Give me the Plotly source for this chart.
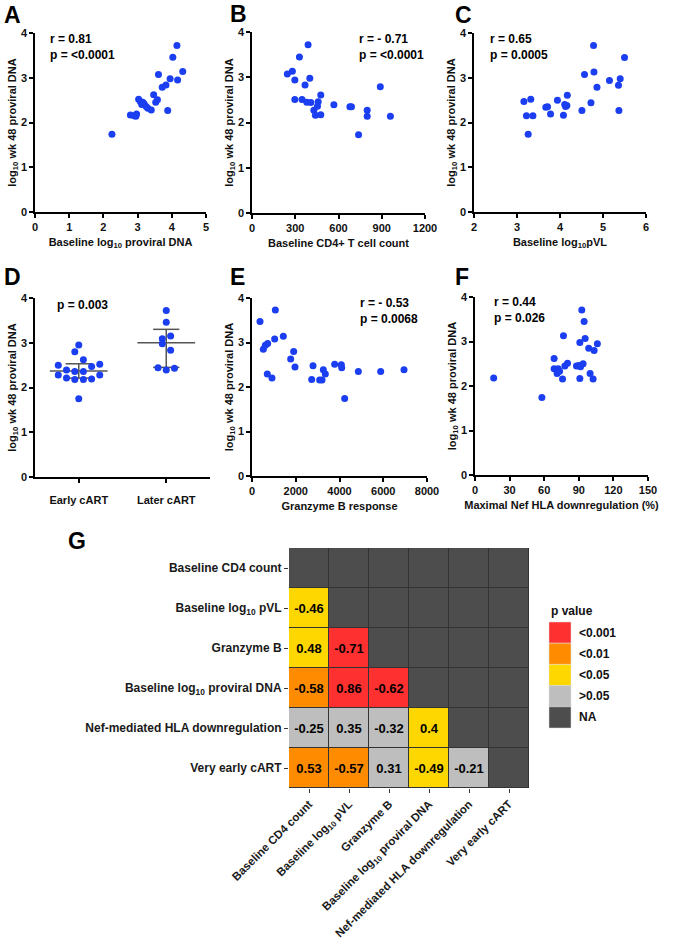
import plotly.graph_objects as go

W, H = 680, 944
FONT = "Liberation Sans, Arial, sans-serif"
BLUE = "#1a3ef0"

# A: baseline log10 proviral DNA vs wk 48
a_x = [2.25, 2.79, 2.90, 2.97, 2.95, 3.03, 3.08, 3.12, 3.19, 3.25, 3.30, 3.40, 3.47,
       3.53, 3.58, 3.61, 3.72, 3.83, 3.88, 3.95, 4.03, 4.15, 4.17, 4.32, 3.15]
a_y = [1.74, 2.17, 2.15, 2.19, 2.14, 2.52, 2.47, 2.40, 2.42, 2.36, 2.32, 2.28, 2.62,
       2.45, 2.51, 3.07, 2.79, 2.84, 2.27, 2.98, 3.46, 3.72, 2.95, 3.14, 2.45]

# B: baseline CD4+ T cell count
b_x = [245, 280, 297, 297, 329, 347, 368, 380, 389, 401, 408, 429, 440, 454, 459,
       477, 477, 568, 679, 690, 739, 799, 799, 890, 960]
b_y = [3.07, 3.13, 2.94, 2.51, 3.45, 2.51, 2.83, 2.45, 3.72, 2.98, 2.44, 2.27, 2.16,
       2.36, 2.46, 2.61, 2.17, 2.39, 2.35, 2.35, 1.73, 2.27, 2.14, 2.79, 2.14]

# C: baseline log10 pVL
c_x = [3.16, 3.22, 3.26, 3.32, 3.37, 3.67, 3.71, 3.78, 3.94, 4.08, 4.11, 4.13, 4.17,
       4.16, 4.51, 4.57, 4.72, 4.78, 4.79, 4.86, 5.15, 5.36, 5.37, 5.40, 5.50]
c_y = [2.47, 2.15, 1.74, 2.52, 2.15, 2.34, 2.35, 2.19, 2.50, 2.16, 2.40, 2.36, 2.61,
       2.38, 2.27, 3.07, 2.44, 3.72, 3.13, 2.79, 2.94, 2.83, 2.27, 2.98, 3.45]

# D: early vs later cART
d_groups = ["Early cART", "Later cART"]
d_early_y = [2.95, 2.80, 2.62, 2.50, 2.39, 2.36, 2.36, 2.47, 2.52, 2.28, 2.21, 2.18,
             2.18, 2.19, 2.28, 1.75]
d_early_jit = [0.0, -0.045, 0.053, -0.234, -0.14, -0.045, 0.053, 0.147, 0.24, -0.234,
               -0.14, -0.045, 0.053, 0.147, 0.24, 0.0]
d_later_y = [3.72, 3.46, 3.09, 3.15, 2.98, 2.83, 2.44, 2.39, 2.43]
d_later_jit = [0.0, 0.0, -0.045, 0.05, -0.045, 0.05, -0.094, 0.0, 0.094]
d_median = [2.37, 3.00]
d_q1 = [2.21, 2.45]
d_q3 = [2.53, 3.30]

# E: granzyme B response
e_x = [366, 518, 610, 716, 700, 914, 1036, 1067, 1432, 1768, 1905, 1966, 2728, 2789,
       3093, 3200, 3261, 3352, 3779, 4084, 4100, 4236, 4861, 5882, 6949]
e_y = [3.47, 2.85, 2.94, 2.98, 2.29, 2.20, 3.08, 3.73, 3.14, 2.63, 2.80, 2.45, 2.17,
       2.48, 2.16, 2.16, 2.39, 2.29, 2.51, 2.50, 2.43, 1.74, 2.35, 2.35, 2.39]

# F: maximal Nef HLA downregulation
f_x = [16.2, 58.0, 68.6, 68.6, 71.2, 72.1, 73.3, 75.9, 76.7, 77.9, 80.2, 88.0, 90.9,
       90.9, 92.6, 93.7, 94.6, 95.5, 98.6, 99.8, 102.4, 103.3, 106.1, 91.5, 90.0]
f_y = [2.18, 1.74, 2.62, 2.39, 2.28, 2.39, 2.33, 2.16, 3.13, 2.45, 2.51, 2.45, 2.98,
       2.17, 3.71, 2.50, 3.45, 3.07, 2.85, 2.28, 2.16, 2.80, 2.95, 2.43, 2.46]

# G: correlation matrix
hm_labels = ["Baseline CD4 count", "Baseline log<sub>10</sub> pVL", "Granzyme B",
             "Baseline log<sub>10</sub> proviral DNA", "Nef-mediated HLA downregulation",
             "Very early cART"]
hm_r = [
    [None, None, None, None, None, None],
    ["-0.46", None, None, None, None, None],
    ["0.48", "-0.71", None, None, None, None],
    ["-0.58", "0.86", "-0.62", None, None, None],
    ["-0.25", "0.35", "-0.32", "0.4", None, None],
    ["0.53", "-0.57", "0.31", "-0.49", "-0.21", None],
]
# p category: 0 <0.001, 1 <0.01, 2 <0.05, 3 >0.05, 4 NA
hm_p = [
    [4, 4, 4, 4, 4, 4],
    [2, 4, 4, 4, 4, 4],
    [2, 0, 4, 4, 4, 4],
    [1, 0, 0, 4, 4, 4],
    [3, 3, 3, 2, 4, 4],
    [1, 1, 3, 2, 3, 4],
]
p_labels = ["&lt;0.001", "&lt;0.01", "&lt;0.05", "&gt;0.05", "NA"]
p_colors = ["#ff3030", "#ff8c00", "#ffd700", "#bebebe", "#4d4d4d"]


def fx(px):
    return px / W


def fy(py):
    return 1 - py / H


def xax(x0, x1, rng, dtick, title, anchor, standoff=6):
    return dict(domain=[fx(x0), fx(x1)], range=rng, dtick=dtick, tick0=rng[0],
                anchor=anchor, automargin=False,
                showline=True, linecolor="black", linewidth=1.5,
                ticks="outside", ticklen=4, tickwidth=1.5, tickcolor="black",
                showgrid=False, zeroline=False,
                tickfont=dict(size=11, weight="bold"),
                title=dict(text=title, font=dict(size=11, weight="bold"), standoff=standoff))


def yax(y0, y1, anchor):
    return dict(domain=[fy(y1), fy(y0)], range=[0, 4], dtick=1, anchor=anchor,
                automargin=False,
                showline=True, linecolor="black", linewidth=1.5,
                ticks="outside", ticklen=4, tickwidth=1.5, tickcolor="black",
                showgrid=False, zeroline=False,
                tickfont=dict(size=11, weight="bold"),
                title=dict(text="log<sub>10</sub> wk 48 proviral DNA",
                           font=dict(size=11, weight="bold"), standoff=2))


def dots(x, y, n):
    return go.Scatter(x=x, y=y, mode="markers", xaxis="x" + n, yaxis="y" + n,
                      marker=dict(color=BLUE, size=7), hoverinfo="skip",
                      showlegend=False)


fig = go.Figure()
fig.add_trace(dots(a_x, a_y, ""))
fig.add_trace(dots(b_x, b_y, "2"))
fig.add_trace(dots(c_x, c_y, "3"))

# D: bars (median + IQR) then points
for i, (med, lo, hi) in enumerate(zip(d_median, d_q1, d_q3)):
    c = i + 1
    lx = [c - 0.33, c + 0.33, None, c - 0.15, c + 0.15, None, c - 0.15, c + 0.15, None, c, c]
    ly = [med, med, None, hi, hi, None, lo, lo, None, lo, hi]
    fig.add_trace(go.Scatter(x=lx, y=ly, mode="lines", xaxis="x4", yaxis="y4",
                             line=dict(color="#555555", width=1.5), hoverinfo="skip",
                             showlegend=False))
fig.add_trace(dots([1 + j for j in d_early_jit] + [2 + j for j in d_later_jit],
                   d_early_y + d_later_y, "4"))

fig.add_trace(dots(e_x, e_y, "5"))
fig.add_trace(dots(f_x, f_y, "6"))

# G heatmap
n = len(hm_labels)
fig.add_shape(type="rect", xref="x7", yref="y7", x0=-0.5, x1=n - 0.5, y0=-0.5, y1=n - 0.5,
              fillcolor="#333333", line=dict(width=0), layer="below")
cs = []
for k, col in enumerate(p_colors):
    cs += [[k / 5, col], [(k + 1) / 5, col]]
fig.add_trace(go.Heatmap(
    z=hm_p, x=list(range(n)), y=list(range(n)),
    text=[[v if v is not None else "" for v in row] for row in hm_r],
    texttemplate="%{text}", textfont=dict(size=13, color="black", weight="bold"),
    colorscale=cs, zmin=-0.5, zmax=4.5, showscale=False, xgap=1, ygap=1,
    xaxis="x7", yaxis="y7", hoverinfo="skip"))

fig.update_layout(
    width=W, height=H, margin=dict(l=0, r=0, t=0, b=0, autoexpand=False),
    paper_bgcolor="white", plot_bgcolor="white",
    font=dict(family=FONT, color="#111111", weight="bold"),
    xaxis=xax(35, 206, [0, 5], 1, "Baseline log<sub>10</sub> proviral DNA", "y"),
    yaxis=yax(33, 212, "x"),
    xaxis2=xax(252, 425, [0, 1200], 300, "Baseline CD4+ T cell count", "y2"),
    yaxis2=yax(32, 213, "x2"),
    xaxis3=xax(474, 646, [2, 6], 1, "Baseline log<sub>10</sub>pVL", "y3"),
    yaxis3=yax(33, 212, "x3"),
    xaxis4=dict(xax(35, 210, [0.5, 2.5], 1, "", "y4"), tickvals=[1, 2], ticktext=d_groups,
                ticklabelstandoff=8),
    yaxis4=yax(298, 477, "x4"),
    xaxis5=xax(252, 427, [0, 8000], 2000, "Granzyme B response", "y5"),
    yaxis5=yax(298, 476, "x5"),
    xaxis6=xax(475, 648, [0, 150], 30, "Maximal Nef HLA downregulation (%)", "y6"),
    yaxis6=yax(297, 475, "x6"),
    xaxis7=dict(domain=[fx(289), fx(529)], anchor="y7", range=[-0.5, n - 0.5],
                automargin=False,
                tickvals=list(range(n)), ticktext=hm_labels, tickangle=-45,
                ticks="outside", ticklen=4, tickcolor="#333333", showline=False,
                showgrid=False, zeroline=False,
                tickfont=dict(size=11.5, weight="bold", color="#1a1a1a")),
    yaxis7=dict(domain=[fy(788), fy(548)], anchor="x7", range=[n - 0.5, -0.5],
                automargin=False,
                tickvals=list(range(n)), ticktext=hm_labels,
                ticks="outside", ticklen=4, tickcolor="#333333", showline=False,
                showgrid=False, zeroline=False,
                tickfont=dict(size=12, weight="bold", color="#1a1a1a")),
)

ann = []
for letter, px, py in [("A", 12, 15), ("B", 239, 14), ("C", 463, 15), ("D", 12, 277),
                       ("E", 237, 277), ("F", 462, 277), ("G", 77, 541)]:
    ann.append(dict(text=letter, x=fx(px), y=fy(py), xref="paper", yref="paper",
                    xanchor="center", yanchor="middle", showarrow=False,
                    font=dict(size=23, color="black", weight="bold")))
for txt, px, py in [("r = 0.81<br>p = &lt;0.0001", 48, 30), ("r = - 0.71<br>p = &lt;0.0001", 357, 30),
                    ("r = 0.65<br>p = 0.0005", 488, 30), ("p = 0.003", 55, 296),
                    ("r = - 0.53<br>p = 0.0068", 358, 294), ("r = 0.44<br>p = 0.026", 492, 293)]:
    ann.append(dict(text=txt, x=fx(px), y=fy(py), xref="paper", yref="paper",
                    xanchor="left", yanchor="top", align="left", showarrow=False,
                    font=dict(size=12, color="black", weight="bold")))

# p value legend
ann.append(dict(text="p value", x=fx(549), y=fy(611), xref="paper", yref="paper",
                xanchor="left", yanchor="middle", showarrow=False,
                font=dict(size=12, weight="bold")))
sw = 21.2
for k, (lab, col) in enumerate(zip(p_labels, p_colors)):
    top = 622 + k * sw
    fig.add_shape(type="rect", xref="paper", yref="paper", x0=fx(549), x1=fx(571),
                  y0=fy(top + sw), y1=fy(top), fillcolor=col,
                  line=dict(color="#dddddd", width=0.5))
    ann.append(dict(text=lab, x=fx(577), y=fy(top + sw / 2), xref="paper", yref="paper",
                    xanchor="left", yanchor="middle", showarrow=False,
                    font=dict(size=12, weight="bold")))

fig.update_layout(annotations=ann)
fig.write_html("out.html", config={"displayModeBar": False},
               post_script="document.body.style.margin='0';")
